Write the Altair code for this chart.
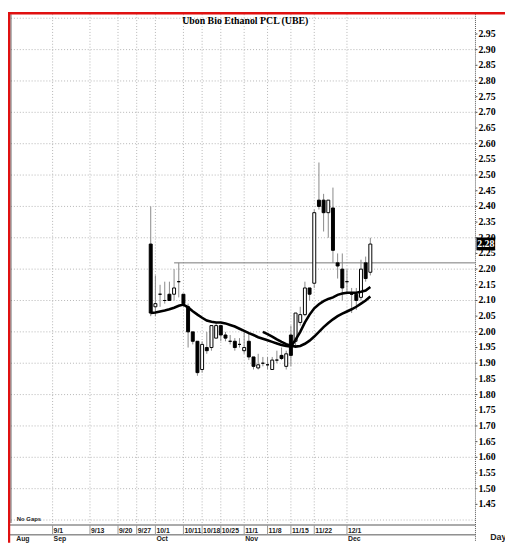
import altair as alt
import pandas as pd

# ---------------- data ----------------
day_idx = list(range(48))  # trading-day index, 0 = 9/30
opens = [2.28, 2.08, 2.12, 2.10, 2.12, 2.12, 2.16, 2.12, 2.08, 2.00, 1.97, 1.88,
         1.95, 1.95, 1.98, 2.02, 1.99, 1.97, 1.97, 1.96, 1.94, 1.97, 1.92, 1.885,
         1.90, 1.895, 1.88, 1.91, 1.925, 1.89, 1.99, 1.97, 2.03, 2.055, 2.14, 2.155,
         2.42, 2.42, 2.38, 2.395, 2.22, 2.20, 2.16, 2.12, 2.12, 2.11, 2.22, 2.19]
closes = [2.06, 2.09, 2.12, 2.10, 2.10, 2.14, 2.16, 2.09, 2.00, 1.97, 1.87, 1.96,
          1.94, 2.02, 2.02, 1.99, 1.98, 1.97, 1.95, 1.96, 1.95, 1.92, 1.89, 1.895,
          1.90, 1.895, 1.91, 1.91, 1.915, 1.93, 1.925, 2.06, 2.055, 2.14, 2.12, 2.38,
          2.40, 2.38, 2.42, 2.26, 2.21, 2.14, 2.16, 2.12, 2.10, 2.20, 2.17, 2.28]
highs = [2.40, 2.18, 2.15, 2.16, 2.16, 2.20, 2.22, 2.12, 2.09, 2.00, 1.97, 1.97,
         2.00, 2.02, 2.03, 2.02, 2.00, 1.99, 1.98, 1.98, 2.00, 2.00, 1.92, 1.93,
         1.92, 1.92, 1.92, 1.94, 1.95, 1.94, 2.02, 2.06, 2.08, 2.16, 2.14, 2.39,
         2.54, 2.44, 2.42, 2.46, 2.25, 2.25, 2.20, 2.14, 2.14, 2.23, 2.24, 2.30]
lows = [2.05, 2.05, 2.08, 2.09, 2.10, 2.10, 2.11, 2.08, 1.95, 1.96, 1.86, 1.87,
        1.93, 1.94, 1.98, 1.97, 1.97, 1.96, 1.94, 1.95, 1.93, 1.91, 1.88, 1.88,
        1.89, 1.88, 1.88, 1.90, 1.91, 1.88, 1.89, 1.95, 2.02, 2.05, 2.10, 2.14,
        2.39, 2.32, 2.30, 2.22, 2.17, 2.10, 2.12, 2.06, 2.07, 2.10, 2.16, 2.18]

ma_a = [2.060, 2.062, 2.065, 2.068, 2.072, 2.077, 2.083, 2.087, 2.078, 2.066, 2.055, 2.045,
        2.036, 2.032, 2.030, 2.030, 2.027, 2.022, 2.017, 2.010, 2.003, 1.996, 1.990, 1.983,
        1.978, 1.973, 1.968, 1.963, 1.958, 1.955, 1.953, 1.975, 2.000, 2.030, 2.055, 2.075,
        2.088, 2.098, 2.105, 2.110, 2.118, 2.122, 2.125, 2.125, 2.125, 2.128, 2.132, 2.143]
ma_b_idx = list(range(24, 48))
ma_b = [2.000, 1.993, 1.985, 1.976, 1.968, 1.961, 1.956, 1.953, 1.955, 1.962, 1.972, 1.985,
        2.000, 2.015, 2.028, 2.040, 2.050, 2.058, 2.065, 2.072, 2.080, 2.090, 2.100, 2.113]

ref_line_start = [5]
ref_line_level = [2.22]

grid_levels = [1.40, 1.50, 1.60, 1.70, 1.80, 1.90, 2.00, 2.10, 2.20, 2.30, 2.40, 2.50,
               2.60, 2.70, 2.80, 2.90, 3.00]
price_ticks = [1.45, 1.50, 1.55, 1.60, 1.65, 1.70, 1.75, 1.80, 1.85, 1.90, 1.95, 2.00,
               2.05, 2.10, 2.15, 2.20, 2.25, 2.30, 2.35, 2.40, 2.45, 2.50, 2.55, 2.60,
               2.65, 2.70, 2.75, 2.80, 2.85, 2.90, 2.95]
date_tick_idx = [-21, -13, -7, -3, 1, 7, 11, 15, 20, 25, 30, 35, 42]
date_tick_lbl = ["9/1", "9/13", "9/20", "9/27", "10/1", "10/11", "10/18", "10/25",
                 "11/1", "11/8", "11/15", "11/22", "12/1"]
month_idx = [-29, -21, 1, 20, 42]
month_lbl = ["Aug", "Sep", "Oct", "Nov", "Dec"]
title_text = ["Ubon Bio Ethanol PCL (UBE)"]

# ---------------- layout ----------------
W, H = 473, 517
xs = alt.Scale(domain=[-29.07, 68.45], nice=False, zero=False)
ys = alt.Scale(domain=[1.3904, 3.0128], nice=False, zero=False)

candles = pd.DataFrame({"i": day_idx, "open": opens, "close": closes,
                        "high": highs, "low": lows})
ma_a_df = pd.DataFrame({"i": day_idx, "v": ma_a})
ma_b_df = pd.DataFrame({"i": ma_b_idx, "v": ma_b})
grid_df = pd.DataFrame({"level": grid_levels})
tick_df = pd.DataFrame({"p": price_ticks, "lbl": [f"{p:.2f}" for p in price_ticks]})
vgrid_df = pd.DataFrame({"i": date_tick_idx, "lbl": date_tick_lbl})
month_df = pd.DataFrame({"i": month_idx, "lbl": month_lbl})
ref_df = pd.DataFrame({"i": ref_line_start, "level": ref_line_level})
last_df = pd.DataFrame({"close": [closes[-1]], "lbl": [f"{closes[-1]:.2f}"]})


def X(f):
    return alt.X(f, type="quantitative", scale=xs, axis=None)


def Y(f):
    return alt.Y(f, type="quantitative", scale=ys, axis=None)


one = pd.DataFrame({"a": [0]})

hgrid = alt.Chart(grid_df).mark_rule(color="#b5b5b5", strokeDash=[1, 2], strokeWidth=1).encode(
    y=Y("level"))
vgrid = alt.Chart(vgrid_df).mark_rule(color="#b5b5b5", strokeDash=[1, 2], strokeWidth=1).encode(
    x=X("i"))

# right price axis drawn from the tick list
axis_line = alt.Chart(one).mark_rule(color="#555", strokeDash=[1, 1], strokeWidth=1).encode(
    x=alt.value(W), y=alt.value(0), y2=alt.value(H + 19))
axis_ticks = alt.Chart(tick_df).mark_rule(color="#555", strokeWidth=1).encode(
    x=alt.value(W), x2=alt.value(W + 2), y=Y("p"))
axis_lbls = alt.Chart(tick_df).mark_text(
    align="left", baseline="middle", font="Liberation Serif", fontWeight="bold",
    fontSize=10, color="black").encode(x=alt.value(W + 3), y=Y("p"), text="lbl:N")

refline = alt.Chart(ref_df).mark_rule(color="#777", strokeWidth=1).encode(
    x=X("i"), x2=alt.value(W), y=Y("level"))
wicks = alt.Chart(candles).mark_rule(color="#888", strokeWidth=1).encode(
    x=X("i"), y=Y("low"), y2="high:Q")
bodies = alt.Chart(candles).mark_bar(size=3, stroke="black", strokeWidth=1).encode(
    x=X("i"), y=Y("open"), y2="close:Q",
    fill=alt.condition("datum.close < datum.open", alt.value("black"), alt.value("white")))
line_a = alt.Chart(ma_a_df).mark_line(color="black", strokeWidth=2.6).encode(
    x=X("i"), y=Y("v"))
line_b = alt.Chart(ma_b_df).mark_line(color="black", strokeWidth=2.6).encode(
    x=X("i"), y=Y("v"))

box = alt.Chart(last_df).transform_calculate(
    top="datum.close + 0.021", bot="datum.close - 0.020"
).mark_rect(color="black").encode(
    x=alt.value(W + 1), x2=alt.value(W + 20), y=Y("top:Q"), y2="bot:Q")
box_txt = alt.Chart(last_df).mark_text(
    align="center", baseline="middle", font="Liberation Serif", fontWeight="bold",
    fontSize=10, color="white").encode(x=alt.value(W + 10.5), y=Y("close"), text="lbl:N")

title = alt.Chart(pd.DataFrame({"t": title_text})).mark_text(
    align="left", baseline="middle", font="Liberation Serif", fontWeight="bold", fontSize=10,
    color="black").encode(x=alt.value(175), y=alt.value(7), text="t:N")

# bottom date area
base_line1 = alt.Chart(one).mark_rule(color="#555", strokeWidth=1).encode(
    x=alt.value(0), x2=alt.value(W), y=alt.value(H + 2))
base_line2 = alt.Chart(one).mark_rule(color="#555", strokeWidth=1).encode(
    x=alt.value(0), x2=alt.value(W), y=alt.value(H + 12))
seps = alt.Chart(vgrid_df).mark_rule(color="#999", strokeWidth=1).encode(
    x=X("i"), y=alt.value(H + 2), y2=alt.value(H + 12))
date_lbls = alt.Chart(vgrid_df).mark_text(
    align="left", baseline="middle", dx=1, font="Liberation Sans Narrow, Liberation Sans",
    fontWeight="bold", fontSize=7, color="#222").encode(
    x=X("i"), y=alt.value(H + 8), text="lbl:N")
month_lbls = alt.Chart(month_df).mark_text(
    align="left", baseline="middle", dx=1, font="Liberation Sans Narrow, Liberation Sans",
    fontWeight="bold", fontSize=7, color="#222").encode(
    x=X("i"), y=alt.value(H + 16), text="lbl:N")
nogaps = alt.Chart(pd.DataFrame({"t": ["No Gaps"]})).mark_text(
    align="left", baseline="middle", font="Liberation Sans", fontWeight="bold", fontSize=6,
    color="#222").encode(x=alt.value(7), y=alt.value(H - 4), text="t:N")
day_txt = alt.Chart(pd.DataFrame({"t": ["Day"]})).mark_text(
    align="left", baseline="middle", font="Liberation Sans", fontWeight="bold", fontSize=9,
    color="#222").encode(x=alt.value(W + 15), y=alt.value(H + 14), text="t:N")

# frame
left_dark = alt.Chart(one).mark_rule(color="#555", strokeWidth=1).encode(
    x=alt.value(1), y=alt.value(0), y2=alt.value(H))
red_top = alt.Chart(one).mark_rule(color="#e01010", strokeWidth=2.5).encode(
    x=alt.value(-2), x2=alt.value(W + 32), y=alt.value(-1))
red_left = alt.Chart(one).mark_rule(color="#e01010", strokeWidth=2.5).encode(
    x=alt.value(-1), y=alt.value(-2), y2=alt.value(H + 20))

chart = alt.layer(
    hgrid, vgrid, axis_line, axis_ticks, axis_lbls, refline, wicks, bodies, line_a, line_b,
    box, box_txt, title, base_line1, base_line2, seps, date_lbls, month_lbls, nogaps,
    day_txt, left_dark, red_top, red_left
).properties(
    width=W, height=H,
    padding={"left": 2, "top": 2, "right": 30, "bottom": 19},
    autosize=alt.AutoSizeParams(type="none"),
    background="white",
).configure_view(stroke=None)

chart.save("out.html", embed_options={"renderer": "svg", "actions": False})
